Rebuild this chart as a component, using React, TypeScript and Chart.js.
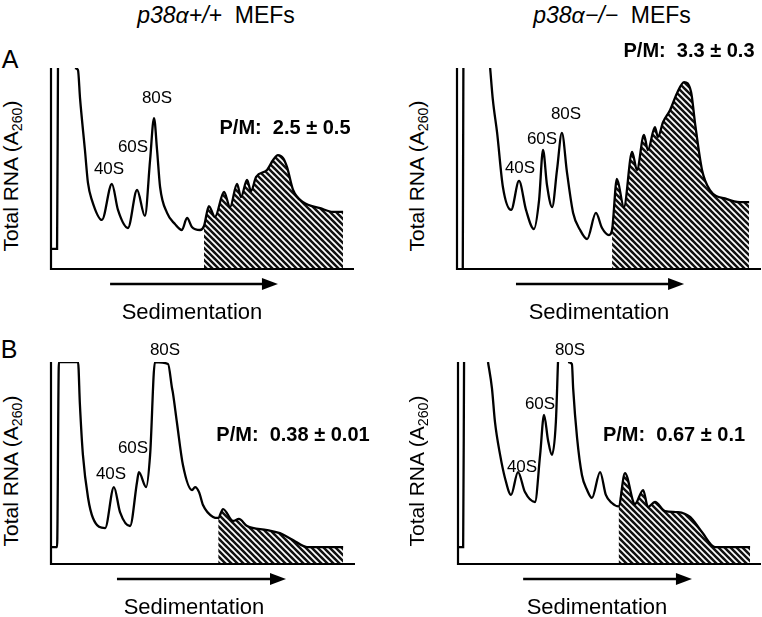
import React, { useEffect, useRef } from "react";
import { Chart, registerables } from "chart.js";

Chart.register(...registerables);

// ---- Data (sedimentation position 0-100, relative A260 0-100; null = off-scale gap) ----
type Pt = [number, number | null];

// Panel A, p38α+/+
const aWtProfile: Pt[] = [
  [0, 10], [2.0, 10], [2.3, 100], [5, null], [7.9, 100], [8.9, 99], [9.6, 84.6], [11.2, 59.2],
  [12.2, 42.8], [13.5, 34.3], [16.8, 24.4], [20.1, 42.3], [22.1, 29.4], [25.4, 20.4], [28.4, 39.3],
  [31.0, 26.4], [32.7, 54.2], [34.0, 75.1], [35.0, 59.2], [36.0, 40.8], [38.3, 27.9], [40.9, 22.4],
  [43.2, 19.4], [44.9, 25.4], [46.5, 20.9], [49.2, 19.4], [50.5, 21.4], [52.1, 31.3], [54.1, 25.9],
  [57.1, 38.3], [59.1, 30.8], [61.4, 42.3], [62.7, 35.8], [64.7, 44.3], [66.0, 38.8], [67.7, 45.8],
  [71.3, 49.3], [73.3, 54.2], [74.9, 56.7], [76.6, 55.2], [77.9, 50.7], [79.9, 39.3], [83.2, 33.3],
  [88.8, 30.3], [93.1, 28.4], [96.4, 28.4],
];
// Panel A, p38α−/−
const aKoProfile: Pt[] = [
  [1.9, 0], [2.1, 100], [5, null], [10.9, 100], [11.8, 84.1], [13.2, 67.7], [15.1, 40.8], [17.8, 29.4],
  [20.4, 43.8], [22.7, 29.4], [25.3, 19.9], [27.0, 34.3], [28.3, 59.2], [29.6, 41.8], [31.3, 30.8],
  [32.9, 49.3], [34.5, 67.7], [36.2, 47.8], [38.2, 27.9], [40.5, 19.4], [42.8, 14.9], [45.7, 27.9],
  [47.7, 20.4], [50.0, 16.9], [51.0, 19.4], [52.6, 44.8], [54.9, 30.8], [57.6, 58.2], [59.2, 49.3],
  [61.5, 66.7], [62.8, 59.2], [65.1, 70.6], [66.1, 65.7], [67.8, 73.1], [70.1, 79.1], [72.4, 87.6],
  [74.7, 93.0], [77.0, 88.1], [78.3, 72.6], [80.6, 49.3], [83.2, 39.3], [88.8, 34.8], [93.1, 33.3],
  [96.1, 33.3],
];
// Panel B, p38α+/+
const bWtProfile: Pt[] = [
  [0, 8.4], [2.0, 8.4], [2.6, 100], [8.9, 100], [9.5, 79.2], [10.5, 54.0], [12.2, 32.7], [13.8, 22.8],
  [17.8, 17.8], [20.7, 38.1], [22.7, 25.7], [26.0, 18.8], [28.3, 40.6], [28.9, 45.5], [31.3, 38.1],
  [32.6, 54.0], [34.2, 100], [38.5, 99.0], [39.8, 87.1], [40.1, 84.7], [41.4, 70.3], [43.4, 49.0],
  [46.4, 36.6], [47.4, 38.1], [48.7, 35.6], [50.0, 29.2], [53.3, 23.3], [55.0, 22.8], [56.6, 27.2],
  [59.9, 21.3], [61.8, 22.3], [64.5, 18.8], [71.1, 16.8], [75.3, 15.3], [79.6, 11.9], [84.2, 8.4],
  [96.1, 8.4],
];
// Panel B, p38α−/−
const bKoProfile: Pt[] = [
  [0, 8.4], [1.7, 8.4], [2.0, 100], [5, null], [9.9, 100], [11.2, 87.1], [12.2, 70.3], [13.9, 54.0],
  [15.5, 42.6], [17.5, 34.2], [19.8, 45.5], [22.1, 35.6], [25.4, 30.7], [27.1, 54.0], [28.4, 73.8],
  [29.7, 61.4], [31.0, 54.0], [32.3, 70.3], [33.0, 100], [35, null], [36.3, 100], [37.6, 99.0],
  [38.0, 87.1], [39.3, 62.4], [40.9, 44.1], [42.6, 36.6], [44.2, 32.7], [46.9, 45.5], [48.8, 34.2],
  [50.8, 30.2], [53.0, 28.5], [55.1, 45.0], [58.4, 29.7], [61.1, 36.6], [62.7, 28.2], [65.0, 30.7],
  [68.3, 26.2], [72.6, 25.7], [76.6, 23.3], [80.5, 15.8], [84.8, 8.4], [96.4, 8.4],
];

// Start of the polysome (hatched) fraction, per panel
const polysomeStart = [50.5, 51.0, 55.0, 53.0];
// Sedimentation arrow span (same units as x)
const arrowFrom = [19.5, 19.4, 21.7, 21.5];
const arrowTo = [74.9, 74.7, 77.3, 77.2];
// P/M ratios
const pmLabels = ["2.5 ± 0.5", "3.3 ± 0.3", "0.38 ± 0.01", "0.67 ± 0.1"];
const genotypes = ["p38α+/+", "p38α−/−"];
const peakNames = ["40S", "60S", "80S"];

// ---- Layout ----
const FONT = '"Liberation Sans", Arial, Helvetica, sans-serif';
const PAD = 20;
const PADB = 32;
// axis boxes [left, top, right, bottom] in page px
const boxes = [
  [51, 68, 354, 269],
  [457, 68, 761, 269],
  [51, 362, 355, 564],
  [458, 362, 761, 564],
];
const peakPos = [
  [[109, 168], [133, 146], [157, 97]],
  [[520, 167], [542, 138], [566, 113]],
  [[111, 473], [133, 447], [165, 349]],
  [[522, 466], [540, 403], [570, 349]],
];
const pmPos = [[285, 127], [689, 50], [293, 434], [674, 434]];
const sedPos = [[192, 312], [599, 312], [194, 607], [597, 607]];
const yLabPos = [[11, 176], [417, 176], [11, 471], [417, 471]];

function makeHatch(): CanvasPattern | string {
  const s = 6;
  const c = document.createElement("canvas");
  c.width = s;
  c.height = s;
  const g = c.getContext("2d");
  if (!g) return "#111";
  g.fillStyle = "#111111";
  g.fillRect(0, 0, s, s);
  g.strokeStyle = "#ffffff";
  g.lineWidth = 1.7;
  for (const k of [-s, 0, s]) {
    g.beginPath();
    g.moveTo(k - 1, -1);
    g.lineTo(k + s + 1, s + 1);
    g.stroke();
  }
  return g.createPattern(c, "repeat") || "#111";
}

function Profile({ idx, profile }: { idx: number; profile: Pt[] }) {
  const ref = useRef<HTMLCanvasElement>(null);
  const [l, t, r, b] = boxes[idx];
  const w = r - l + PAD * 2;
  const h = b - t + PAD + PADB;
  useEffect(() => {
    const canvas = ref.current!;
    const pts = profile.map(([x, y]) => ({ x, y }));
    const poly = pts.filter((p) => p.x >= polysomeStart[idx] && p.y !== null);
    const axesPlugin = {
      id: "axesArrow" + idx,
      afterDatasetsDraw(chart: any) {
        const { ctx, chartArea } = chart;
        const { left, top, right, bottom } = chartArea;
        const xs = chart.scales.x;
        ctx.save();
        ctx.strokeStyle = "#000";
        ctx.fillStyle = "#000";
        ctx.lineWidth = 2.2;
        ctx.beginPath();
        ctx.moveTo(left, top);
        ctx.lineTo(left, bottom);
        ctx.lineTo(right, bottom);
        ctx.stroke();
        const x0 = xs.getPixelForValue(arrowFrom[idx]);
        const x1 = xs.getPixelForValue(arrowTo[idx]);
        const ay = bottom + 15;
        ctx.lineWidth = 2.4;
        ctx.beginPath();
        ctx.moveTo(x0, ay);
        ctx.lineTo(x1 - 12, ay);
        ctx.stroke();
        ctx.beginPath();
        ctx.moveTo(x1, ay);
        ctx.lineTo(x1 - 16, ay - 6);
        ctx.lineTo(x1 - 16, ay + 6);
        ctx.closePath();
        ctx.fill();
        ctx.restore();
      },
    };
    const chart = new Chart(canvas, {
      type: "line",
      data: {
        datasets: [
          {
            data: pts as any,
            borderColor: "#000",
            borderWidth: 2.3,
            pointRadius: 0,
            fill: false,
            cubicInterpolationMode: "monotone",
            spanGaps: false,
            order: 0,
          },
          {
            data: poly as any,
            borderColor: "rgba(0,0,0,0)",
            borderWidth: 0,
            pointRadius: 0,
            fill: "origin",
            backgroundColor: makeHatch() as any,
            cubicInterpolationMode: "monotone",
            order: 1,
          },
        ],
      },
      options: {
        responsive: false,
        animation: false,
        events: [],
        layout: { padding: { left: PAD, top: PAD, right: PAD, bottom: PADB } },
        scales: {
          x: { type: "linear", min: 0, max: 100, display: false },
          y: { type: "linear", min: 0, max: 100, display: false },
        },
        plugins: { legend: { display: false }, tooltip: { enabled: false } },
      },
      plugins: [axesPlugin],
    });
    return () => chart.destroy();
  }, []);
  return (
    <canvas
      ref={ref}
      width={w}
      height={h}
      style={{ position: "absolute", left: l - PAD, top: t - PAD, width: w, height: h }}
    />
  );
}

function Label({
  x,
  y,
  size,
  bold,
  children,
}: {
  x: number;
  y: number;
  size: number;
  bold?: boolean;
  children: React.ReactNode;
}) {
  return (
    <div
      style={{
        position: "absolute",
        left: x,
        top: y,
        transform: "translate(-50%, -50%)",
        fontFamily: FONT,
        fontSize: size,
        fontWeight: bold ? "bold" : "normal",
        lineHeight: 1,
        whiteSpace: "pre",
        color: "#000",
      }}
    >
      {children}
    </div>
  );
}

function YLabel({ x, y }: { x: number; y: number }) {
  const W = 180;
  const H = 22;
  return (
    <div
      style={{
        position: "absolute",
        left: x - W / 2,
        top: y - H / 2,
        width: W,
        height: H,
        transform: "rotate(-90deg)",
        transformOrigin: "50% 50%",
        fontFamily: FONT,
        fontSize: 21,
        lineHeight: H + "px",
        textAlign: "center",
        whiteSpace: "pre",
        color: "#000",
      }}
    >
      {"Total RNA (A"}
      <span style={{ fontSize: "0.68em", position: "relative", top: "0.3em" }}>260</span>
      {")"}
    </div>
  );
}

export default function App() {
  const profiles = [aWtProfile, aKoProfile, bWtProfile, bKoProfile];
  return (
    <div
      style={{
        position: "fixed",
        left: 0,
        top: 0,
        width: 762,
        height: 617,
        overflow: "hidden",
        background: "#fff",
      }}
    >
      {profiles.map((p, i) => (
        <Profile key={i} idx={i} profile={p} />
      ))}
      <Label x={216} y={15} size={23}>
        <i>{genotypes[0]}</i>
        {"  MEFs"}
      </Label>
      <Label x={612} y={15} size={23}>
        <i>{genotypes[1]}</i>
        {"  MEFs"}
      </Label>
      <Label x={10} y={59} size={25}>A</Label>
      <Label x={9} y={349} size={25}>B</Label>
      {peakPos.map((ps, i) =>
        ps.map(([x, y], j) => (
          <Label key={"pk" + i + j} x={x} y={y} size={17}>
            {peakNames[j]}
          </Label>
        ))
      )}
      {pmPos.map(([x, y], i) => (
        <Label key={"pm" + i} x={x} y={y} size={20} bold>
          {"P/M:  " + pmLabels[i]}
        </Label>
      ))}
      {sedPos.map(([x, y], i) => (
        <Label key={"sd" + i} x={x} y={y} size={22}>
          Sedimentation
        </Label>
      ))}
      {yLabPos.map(([x, y], i) => (
        <YLabel key={"yl" + i} x={x} y={y} />
      ))}
    </div>
  );
}
